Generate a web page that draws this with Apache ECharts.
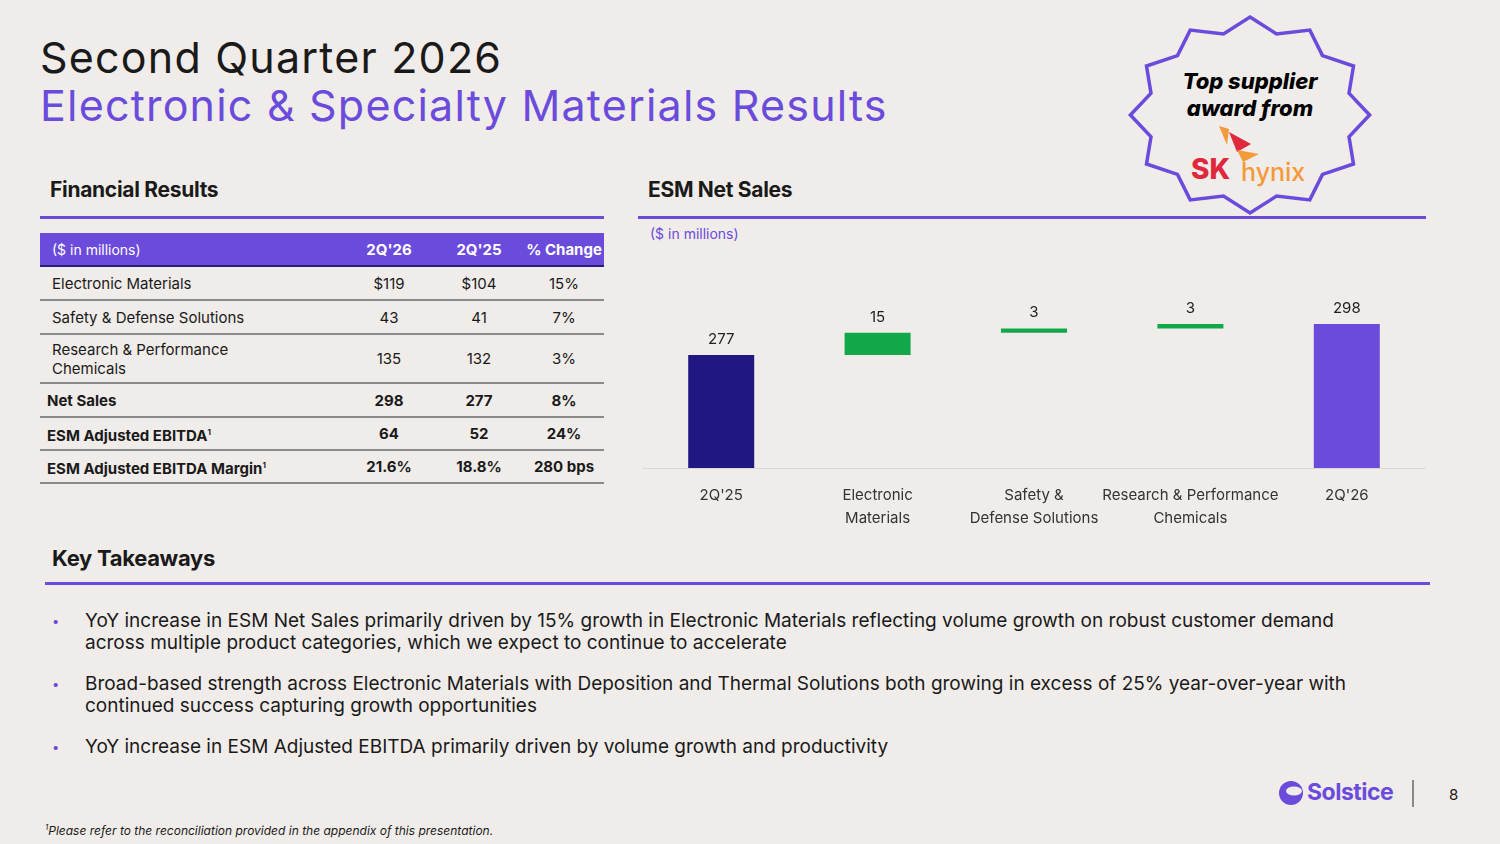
<!DOCTYPE html>
<html>
<head>
<meta charset="utf-8">
<script src="https://cdn.jsdelivr.net/npm/echarts@6/dist/echarts.min.js"></script>
<style>
  body { margin:0; width:1500px; height:844px; background:#f0ece9; font-family:Inter, "Open Sans", sans-serif; position:relative; overflow:hidden; color:#1a1a1a; }
  .abs { position:absolute; }
  h1 { margin:0; font-weight:400; font-size:43px; line-height:48px; letter-spacing:1.2px; }
  .purple { color:#6a4bdb; }
  .sec { font-weight:700; font-size:21px; letter-spacing:-0.3px; }
  .rule { height:3px; background:#6a4bdb; }
  table { border-collapse:collapse; font-size:15px; }
  td { border-bottom:2px solid #8a8a8a; padding:0; }
  td.c { text-align:center; }
  tr.hd td { background:#6a4bdb; color:#fff; border-bottom:2px solid #2a1a7a; }
  tr.b td { font-weight:700; }
  ul { margin:0; padding:0; list-style:none; font-size:19px; line-height:22px; }
  li { position:relative; padding-left:33px; margin-bottom:19px; }
  li:before { content:"\2022"; color:#6a4bdb; position:absolute; left:0; font-size:13px; }
</style>
</head>
<body>
<div class="abs" style="left:40px;top:33px;">
  <h1>Second Quarter 2026</h1>
  <h1 class="purple">Electronic &amp; Specialty Materials Results</h1>
</div>

<svg class="abs" style="left:1125px;top:14px;" width="250" height="202" viewBox="0 0 250 202">
  <polygon id="star" fill="none" stroke="#6a4bdb" stroke-width="3.5"/>
  <text x="125" y="75" text-anchor="middle" font-family="Inter" font-weight="800" font-style="italic" font-size="22">Top supplier</text>
  <text x="125" y="102" text-anchor="middle" font-family="Inter" font-weight="800" font-style="italic" font-size="22">award from</text>
  <path d="M94 112 l10 3 l-2 16 z" fill="#f39a3a"/>
  <path d="M104 118 l22 12 l-14 8 z" fill="#e0283c"/>
  <path d="M112 136 l22 4 l-16 8 z" fill="#f39a3a"/>
  <text x="66" y="165" font-family="Inter" font-weight="800" font-size="28" fill="#e0283c">SK</text>
  <text x="116" y="167" font-family="Inter" font-weight="500" font-size="25" fill="#f39a3a">hynix</text>
</svg>

<div class="abs sec" style="left:50px;top:177px;">Financial Results</div>
<div class="abs rule" style="left:40px;top:216px;width:564px;"></div>
<div class="abs sec" style="left:648px;top:177px;">ESM Net Sales</div>
<div class="abs rule" style="left:638px;top:216px;width:788px;"></div>
<div class="abs purple" style="left:650px;top:225px;font-size:14px;">($ in millions)</div>

<table class="abs" style="left:40px;top:233px;width:564px;">
  <tbody id="tb"></tbody>
</table>

<div id="main" class="abs" style="left:640px;top:245px;width:790px;height:290px;"></div>

<div class="abs sec" style="left:52px;top:545px;font-size:22px;">Key Takeaways</div>
<div class="abs rule" style="left:45px;top:582px;width:1385px;"></div>
<ul class="abs" id="bul" style="left:52px;top:610px;width:1330px;"></ul>

<div class="abs" style="left:45px;top:822px;font-size:12px;font-style:italic;"><sup style="font-size:8px">1</sup>Please refer to the reconciliation provided in the appendix of this presentation.</div>
<svg class="abs" style="left:1278px;top:779px;" width="26" height="28" viewBox="0 0 26 28">
  <circle cx="13" cy="14" r="12" fill="#6a4bdb"/><ellipse cx="16" cy="12" rx="8" ry="4.5" fill="#f0ece9"/>
</svg>
<div class="abs purple" style="left:1307px;top:778px;font-size:23px;font-weight:700;letter-spacing:-0.5px;">Solstice</div>
<div class="abs" style="left:1412px;top:780px;width:2px;height:27px;background:#8a8a8a;"></div>
<div class="abs" style="left:1449px;top:785px;font-size:15px;">8</div>

<script>
var categories = ['2Q\'25', 'Electronic\nMaterials', 'Safety &\nDefense Solutions', 'Research & Performance\nChemicals', '2Q\'26'];
var barValues = [277, 15, 3, 3, 298];
var barBase = [0, 277, 292, 295, 0];
var barColors = ['#211782', '#12a84a', '#12a84a', '#12a84a', '#6a4bdb'];

var tableHead = ['($ in millions)', '2Q\'26', '2Q\'25', '% Change'];
var tableRows = [
  ['Electronic Materials', '$119', '$104', '15%'],
  ['Safety &amp; Defense Solutions', '43', '41', '7%'],
  ['Research &amp; Performance<br>Chemicals', '135', '132', '3%'],
  ['Net Sales', '298', '277', '8%'],
  ['ESM Adjusted EBITDA<sup style="font-size:8px">1</sup>', '64', '52', '24%'],
  ['ESM Adjusted EBITDA Margin<sup style="font-size:8px">1</sup>', '21.6%', '18.8%', '280 bps']
];
var boldRows = [3, 4, 5];
var rowHeights = [34, 34, 49, 34, 33, 33];

var bullets = [
  'YoY increase in ESM Net Sales primarily driven by 15% growth in Electronic Materials reflecting volume growth on robust customer demand across multiple product categories, which we expect to continue to accelerate',
  'Broad-based strength across Electronic Materials with Deposition and Thermal Solutions both growing in excess of 25% year-over-year with continued success capturing growth opportunities',
  'YoY increase in ESM Adjusted EBITDA primarily driven by volume growth and productivity'
];

// table
var html = '<tr class="hd" style="height:33px"><td style="padding-left:12px;font-size:14px">' + tableHead[0] + '</td>';
for (var i = 1; i < 4; i++) html += '<td class="c" style="font-weight:700">' + tableHead[i] + '</td>';
html += '</tr>';
tableRows.forEach(function (r, k) {
  var b = boldRows.indexOf(k) >= 0;
  html += '<tr class="' + (b ? 'b' : '') + '" style="height:' + rowHeights[k] + 'px"><td style="padding-left:' + (b ? 7 : 12) + 'px;line-height:19px;width:292px">' + r[0] + '</td>';
  html += '<td class="c" style="width:90px">' + r[1] + '</td><td class="c" style="width:90px">' + r[2] + '</td><td class="c">' + r[3] + '</td></tr>';
});
document.getElementById('tb').innerHTML = html;
document.getElementById('bul').innerHTML = bullets.map(function (t) { return '<li>' + t + '</li>'; }).join('');

// badge star
var pts = [];
for (var j = 0; j < 24; j++) {
  var a = -Math.PI / 2 + j * Math.PI / 12;
  var r = j % 2 === 0 ? 98 : 84;
  pts.push((125 + r * 1.22 * Math.cos(a)).toFixed(1) + ',' + (101 + r * Math.sin(a)).toFixed(1));
}
document.getElementById('star').setAttribute('points', pts.join(' '));

var myChart = echarts.init(document.getElementById('main'));
myChart.setOption({
  animation: false,
  grid: { left: 3, right: 5, top: 10, bottom: 67 },
  xAxis: {
    type: 'category', data: categories,
    axisLine: { lineStyle: { color: '#dcd8d5' } }, axisTick: { show: false },
    axisLabel: { color: '#333', fontSize: 15, lineHeight: 23, margin: 16, interval: 0, fontFamily: 'Inter' }
  },
  yAxis: { type: 'value', min: 200, max: 345, show: false, splitLine: { show: false } },
  series: [
    { type: 'bar', stack: 'w', data: barBase, itemStyle: { color: 'transparent' }, barWidth: 66 },
    {
      type: 'bar', stack: 'w', data: barValues.map(function (v, i) { return { value: v, itemStyle: { color: barColors[i] } }; }),
      label: { show: true, position: 'top', color: '#222', fontSize: 15, fontFamily: 'Inter', distance: 8 }
    }
  ]
});
</script>
</body>
</html>
